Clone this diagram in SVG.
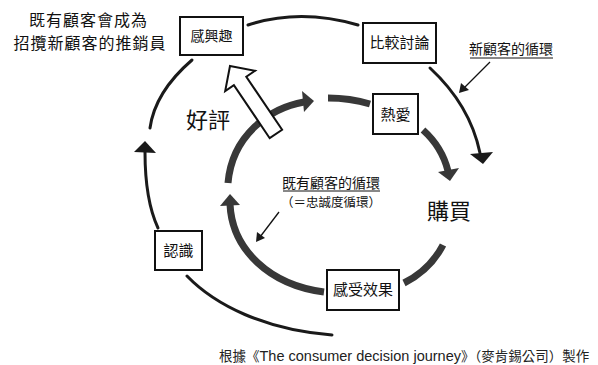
<svg xmlns="http://www.w3.org/2000/svg" width="598" height="365" viewBox="0 0 598 365">
<style>
.box{fill:#fff;stroke:#111;stroke-width:2}
.lbl{font-family:"Noto Sans CJK TC","Noto Sans CJK SC",sans-serif;fill:#111;text-anchor:middle}
.outer{fill:none;stroke:#1a1a1a;stroke-width:3;stroke-linecap:round}
.inner{fill:none;stroke:#383838;stroke-width:7}
.head{fill:#1a1a1a}
.ihead{fill:#383838}
.thin{fill:none;stroke:#111;stroke-width:1.3}
.foot{font-family:"Noto Sans CJK TC","Noto Sans CJK SC",sans-serif;font-size:13.5px;fill:#222}
.lat{font-family:"Liberation Sans",Arial,sans-serif;font-size:14.5px}
</style>
<rect width="598" height="365" fill="#fff"/>
<g id="connectors">
  <!-- outer loop -->
  <path class="outer" d="M248,25 Q300,8 358,25"/>
  <path class="outer" d="M430,68 Q470,105 480,153"/>
  <polygon class="head" points="483,164 470,154 493,152"/>
  <path class="outer" d="M192,60 Q155,92 150,128"/>
  <path class="outer" d="M145,152 Q145,200 158,228"/>
  <polygon class="head" points="145,141 134,152 156,153"/>
  <path class="outer" d="M187,276 C215,305 265,330 332,335"/>
  <!-- inner loop -->
  <path class="inner" d="M328,98 Q350,98 370,104"/>
  <path class="inner" d="M304,102 C270,108 232,135 228,183"/>
  <polygon class="ihead" points="314,101 302,91 304,112"/>
  <path class="inner" d="M230,204 C232,250 270,285 324,292"/>
  <polygon class="ihead" points="230,194 220,206 240,205"/>
  <path class="inner" d="M404,283 Q430,270 443,245"/>
  <path class="inner" d="M423,130 Q442,147 448,171"/>
  <polygon class="ihead" points="450,181 438,172 459,168"/>
  <!-- thin pointer arrows -->
  <path class="thin" d="M490,62 L463,89"/>
  <polygon class="head" points="459,93 461,83 469,90"/>
  <path class="thin" d="M279,212 L260,237"/>
  <polygon class="head" points="256,242 257,232 265,238"/>
  <!-- white arrow 好評 -->
  <polygon fill="#fff" stroke="#111" stroke-width="2" stroke-linejoin="miter" points="230,66 255,70.8 246.3,76.7 282.1,129.8 269.7,138.2 233.9,85.1 225.2,91"/>
</g>
<g id="n-interest">
  <rect class="box" x="180" y="17" width="63" height="38"/>
  <text class="lbl" x="211.5" y="41" font-size="14">感興趣</text>
</g>
<g id="n-compare">
  <rect class="box" x="363" y="23" width="73" height="40"/>
  <text class="lbl" x="399.5" y="48" font-size="15">比較討論</text>
</g>
<g id="n-love">
  <rect class="box" x="373" y="94" width="45" height="40"/>
  <text class="lbl" x="395.5" y="120" font-size="15">熱愛</text>
</g>
<g id="n-aware">
  <rect class="box" x="155" y="231" width="47" height="39"/>
  <text class="lbl" x="178.5" y="256" font-size="15">認識</text>
</g>
<g id="n-effect">
  <rect class="box" x="327" y="270" width="72" height="40"/>
  <text class="lbl" x="363" y="295" font-size="15">感受效果</text>
</g>
<g id="labels">
  <text class="lbl" x="88.5" y="26" font-size="16" letter-spacing="1">既有顧客會成為</text>
  <text class="lbl" x="90" y="49" font-size="16" letter-spacing="1">招攬新顧客的推銷員</text>
  <text class="lbl" x="208" y="128" font-size="22">好評</text>
  <text class="lbl" x="449" y="219" font-size="22">購買</text>
  <text class="lbl" x="511" y="54" font-size="14">新顧客的循環</text>
  <line x1="470" y1="58" x2="553" y2="58" stroke="#111" stroke-width="1"/>
  <text class="lbl" x="331" y="188" font-size="14">既有顧客的循環</text>
  <line x1="283" y1="191" x2="380" y2="191" stroke="#111" stroke-width="1"/>
  <text class="lbl" x="331" y="207" font-size="12.5">（＝忠誠度循環）</text>
  <text class="foot" x="219" y="361">根據《<tspan class="lat">The consumer decision journey</tspan>》（麥肯錫公司）製作</text>
</g>
</svg>
